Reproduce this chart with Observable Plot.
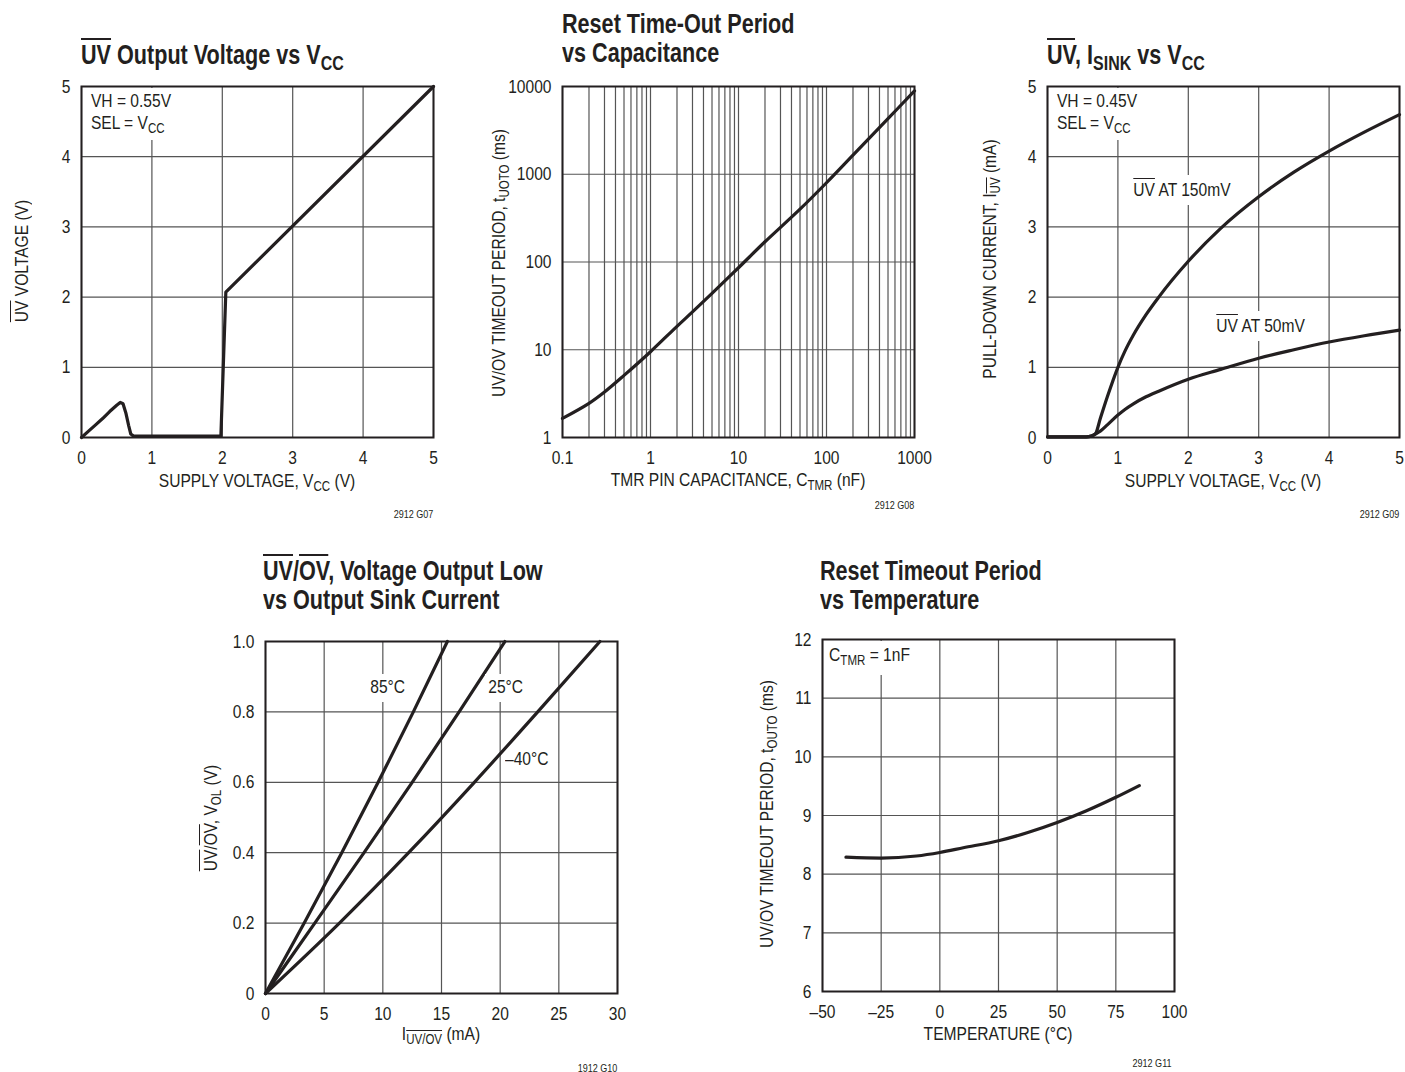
<!DOCTYPE html>
<html>
<head>
<meta charset="utf-8">
<script src="https://cdn.jsdelivr.net/npm/d3@7"></script>
<script src="https://cdn.jsdelivr.net/npm/@observablehq/plot@0.6"></script>
<style>
  html, body { margin: 0; padding: 0; background: #fff; }
  body { width: 1405px; height: 1072px; position: relative; overflow: hidden;
         font-family: "Liberation Sans", Arial, sans-serif; color: #231f20; }
  .abs { position: absolute; white-space: nowrap; }
  .sq { display: inline-block; transform: scaleX(0.82); transform-origin: left center; }
  .title { font-weight: bold; font-size: 27px; line-height: 29px; }
  .title .sq { transform: scaleX(0.8); }
  .lab { font-size: 19px; line-height: 20px; }
  .cx .sq, .rot .sq { transform-origin: center center; }
  .note { font-size: 19px; line-height: 22px; transform: scaleX(0.82); transform-origin: left top; }
  .bg { background: #fff; }
  .fn { font-size: 11px; line-height: 12px; }
  .fn .sq { transform-origin: right center; }
  .ol { text-decoration: overline; text-decoration-thickness: 1px; }
  .title .ol { text-decoration-thickness: 2px; }
  sub { font-size: 0.74em; vertical-align: -0.28em; line-height: 0; }
  .rot { transform: translate(-50%, -50%) rotate(-90deg); }
  .cx { transform: translateX(-50%); }
</style>
</head>
<body>
<script>
const FONT = '"Liberation Sans", Arial, sans-serif';
const INK = "#231f20";
const GRID = "#555";
const SQ = 0.82;

// ---------- Panel 1: UV output voltage vs VCC ----------
const p1Vcc = [0, 0.1, 0.2, 0.3, 0.4, 0.5, 0.55, 0.59, 0.63, 0.67, 0.7, 0.74, 0.8, 1.98, 2.05, 5];
const p1Vuv = [0, 0.09, 0.18, 0.27, 0.37, 0.46, 0.5, 0.48, 0.35, 0.17, 0.05, 0.02, 0.02, 0.02, 2.07, 5];
const p1Ticks = [0, 1, 2, 3, 4, 5];

// ---------- Panel 2: reset time-out period vs capacitance ----------
const p2Cap = [0.1, 0.2, 0.3, 0.5, 1, 2, 3, 5, 10, 20, 50, 100, 200, 500, 1000];
const p2Time = [1.65, 2.45, 3.3, 5.1, 9.5, 18.5, 27, 44, 86, 170, 400, 800, 1650, 4300, 8900];
const p2XTicks = [0.1, 1, 10, 100, 1000];
const p2YTicks = [1, 10, 100, 1000, 10000];
const p2XGrid = [0.1,0.2,0.3,0.4,0.5,0.6,0.7,0.8,0.9,1,2,3,4,5,6,7,8,9,10,20,30,40,50,60,70,80,90,100,200,300,400,500,600,700,800,900,1000];

// ---------- Panel 3: UV sink current vs VCC ----------
const p3Vcc = [0, 0.3, 0.55, 0.62, 0.68, 0.75, 0.85, 1.0, 1.1, 1.22, 1.4, 1.58, 2.0, 2.46, 3.0, 3.5, 4.0, 4.5, 5.0];
const p3I150 = [0.01, 0.01, 0.01, 0.02, 0.05, 0.27, 0.58, 1.0, 1.23, 1.46, 1.75, 2.0, 2.51, 2.98, 3.43, 3.78, 4.08, 4.35, 4.6];
const p3I50 = [0.01, 0.01, 0.01, 0.02, 0.05, 0.09, 0.18, 0.32, 0.4, 0.48, 0.58, 0.66, 0.83, 0.97, 1.13, 1.25, 1.36, 1.45, 1.53];
const p3Ticks = [0, 1, 2, 3, 4, 5];

// ---------- Panel 4: VOL vs sink current ----------
const p4I85 = [0, 3.3, 6.5, 9.6, 12.6, 15.5];
const p4V85 = [0, 0.2, 0.4, 0.6, 0.8, 1.0];
const p4I25 = [0, 4.2, 8.4, 12.5, 16.5, 20.4];
const p4V25 = [0, 0.2, 0.4, 0.6, 0.8, 1.0];
const p4Im40 = [0, 6.3, 12.2, 17.8, 23.2, 28.5];
const p4Vm40 = [0, 0.2, 0.4, 0.6, 0.8, 1.0];
const p4XTicks = [0, 5, 10, 15, 20, 25, 30];
const p4YTicks = [0, 0.2, 0.4, 0.6, 0.8, 1.0];

// ---------- Panel 5: reset timeout vs temperature ----------
const p5Temp = [-40, -25, -10, 0, 10, 25, 37.5, 50, 62.5, 75, 85];
const p5Tout = [8.29, 8.275, 8.31, 8.37, 8.45, 8.57, 8.71, 8.88, 9.08, 9.31, 9.51];
const p5XTicks = [-50, -25, 0, 25, 50, 75, 100];
const p5YTicks = [6, 7, 8, 9, 10, 11, 12];

const zip = (xs, ys) => xs.map((x, i) => ({x, y: ys[i]}));
const dash = d => (d < 0 ? "\u2013" + (-d) : String(d));

// condense tick labels horizontally about their anchor (texts are placed by a translate transform)
function squeezeTexts(svg) {
  svg.querySelectorAll("text").forEach(t => {
    const tr = t.getAttribute("transform") || "";
    t.setAttribute("transform", `${tr} scale(${SQ},1)`);
  });
}

function panel(o) {
  const ml = 80, mr = 40, mt = 14, mb = 40;
  const lineMarks = o.series.map(s =>
    Plot.line(s, {x: "x", y: "y", stroke: INK, strokeWidth: 3.2, curve: o.curve || "linear", strokeLinejoin: "round", strokeLinecap: "round"}));
  const svg = Plot.plot({
    width: o.w + ml + mr,
    height: o.h + mt + mb,
    marginLeft: ml, marginRight: mr, marginTop: mt, marginBottom: mb,
    style: {fontFamily: FONT, fontSize: "19px", color: INK, background: "transparent", overflow: "visible"},
    x: {type: o.xType || "linear", domain: o.xDomain},
    y: {type: o.yType || "linear", domain: o.yDomain},
    marks: [
      Plot.ruleX(o.xGrid, {stroke: GRID, strokeWidth: 1.2}),
      Plot.ruleY(o.yGrid, {stroke: GRID, strokeWidth: 1.2}),
      ...lineMarks,
      Plot.frame({stroke: INK, strokeWidth: 2}),
      Plot.axisX(o.xTicks, {label: null, tickSize: 0, tickPadding: 13, tickFormat: o.xFmt || dash}),
      Plot.axisY(o.yTicks, {label: null, tickSize: 0, tickPadding: 11, tickFormat: o.yFmt || dash})
    ]
  });
  squeezeTexts(svg);
  svg.style.position = "absolute";
  svg.style.left = (o.left - ml) + "px";
  svg.style.top = (o.top - mt) + "px";
  document.body.appendChild(svg);
}

panel({left: 81, top: 86, w: 352, h: 351, xDomain: [0, 5], yDomain: [0, 5],
  xGrid: p1Ticks, yGrid: p1Ticks, xTicks: p1Ticks, yTicks: p1Ticks,
  series: [zip(p1Vcc, p1Vuv)]});

panel({left: 562, top: 86, w: 352, h: 351, xType: "log", yType: "log",
  xDomain: [0.1, 1000], yDomain: [1, 10000],
  xGrid: p2XGrid, yGrid: p2YTicks, xTicks: p2XTicks, yTicks: p2YTicks,
  xFmt: d => String(d), yFmt: d => String(d), curve: "catmull-rom",
  series: [zip(p2Cap, p2Time)]});

panel({left: 1047, top: 86, w: 352, h: 351, xDomain: [0, 5], yDomain: [0, 5],
  xGrid: p3Ticks, yGrid: p3Ticks, xTicks: p3Ticks, yTicks: p3Ticks, curve: "monotone-x",
  series: [zip(p3Vcc, p3I150), zip(p3Vcc, p3I50)]});

panel({left: 265, top: 641, w: 352, h: 352, xDomain: [0, 30], yDomain: [0, 1],
  xGrid: p4XTicks, yGrid: p4YTicks, xTicks: p4XTicks, yTicks: p4YTicks, curve: "monotone-x",
  yFmt: d => (d === 0 ? "0" : d.toFixed(1)),
  series: [zip(p4I85, p4V85), zip(p4I25, p4V25), zip(p4Im40, p4Vm40)]});

panel({left: 822, top: 639, w: 352, h: 352, xDomain: [-50, 100], yDomain: [6, 12],
  xGrid: p5XTicks, yGrid: p5YTicks, xTicks: p5XTicks, yTicks: p5YTicks, curve: "monotone-x",
  series: [zip(p5Temp, p5Tout)]});

function add(cls, html, css) {
  const d = document.createElement("div");
  d.className = "abs " + cls;
  Object.assign(d.style, css);
  d.innerHTML = html;
  document.body.appendChild(d);
  return d;
}

// ---------- titles ----------
const titles = [
  [81, 41, '<span class="ol">UV</span> Output Voltage vs V<sub>CC</sub>'],
  [562, 10, 'Reset Time-Out Period<br>vs Capacitance'],
  [1047, 41, '<span class="ol">UV</span>, I<sub>SINK</sub> vs V<sub>CC</sub>'],
  [263, 557, '<span class="ol">UV</span>/<span class="ol">OV</span>, Voltage Output Low<br>vs Output Sink Current'],
  [820, 557, 'Reset Timeout Period<br>vs Temperature'],
];
for (const [x, y, html] of titles) add("title", `<span class="sq">${html}</span>`, {left: x + "px", top: y + "px"});

// ---------- axis labels ----------
const xLabels = [
  [257, 471, 'SUPPLY VOLTAGE, V<sub>CC</sub> (V)'],
  [738, 470, 'TMR PIN CAPACITANCE, C<sub>TMR</sub> (nF)'],
  [1223, 471, 'SUPPLY VOLTAGE, V<sub>CC</sub> (V)'],
  [441, 1024, 'I<sub><span class="ol">UV/OV</span></sub> (mA)'],
  [998, 1024, 'TEMPERATURE (°C)'],
];
for (const [x, y, html] of xLabels) add("lab cx", `<span class="sq">${html}</span>`, {left: x + "px", top: y + "px"});

const yLabels = [
  [22, 261, '<span class="ol">UV</span> VOLTAGE (V)'],
  [499, 263, 'UV/OV TIMEOUT PERIOD, t<sub>UOTO</sub> (ms)'],
  [990, 259, 'PULL-DOWN CURRENT, I<sub><span class="ol">UV</span></sub> (mA)'],
  [211, 818, '<span class="ol">UV</span>/<span class="ol">OV</span>, V<sub>OL</sub> (V)'],
  [767, 814, 'UV/OV TIMEOUT PERIOD, t<sub>OUTO</sub> (ms)'],
];
for (const [x, y, html] of yLabels) add("lab rot", `<span class="sq">${html}</span>`, {left: x + "px", top: y + "px"});

// ---------- in-plot notes: [left, top, padding, white box?, html] ----------
const notes = [
  [86, 88, "2px 8px 6px 6px", true, 'VH = 0.55V<br>SEL = V<sub>CC</sub>'],
  [1052, 88, "2px 8px 6px 6px", true, 'VH = 0.45V<br>SEL = V<sub>CC</sub>'],
  [1130, 175, "4px 4px 4px 4px", true, '<span class="ol">UV</span> AT 150mV'],
  [1213, 311, "4px 4px 4px 4px", true, '<span class="ol">UV</span> AT 50mV'],
  [367, 674, "2px 4px 4px 4px", true, '85°C'],
  [485, 674, "2px 4px 4px 4px", true, '25°C'],
  [505, 748, "0px", false, '\u201340°C'],
  [825, 641, "3px 6px 9px 5px", true, 'C<sub>TMR</sub> = 1nF'],
];
for (const [x, y, pad, bg, html] of notes) add("note" + (bg ? " bg" : ""), html, {left: x + "px", top: y + "px", padding: pad});

// ---------- figure codes: [right edge, top, text] ----------
const codes = [[433, 508, "2912 G07"], [914, 499, "2912 G08"], [1399, 508, "2912 G09"], [617, 1062, "1912 G10"], [1172, 1057, "2912 G11"]];
for (const [r, y, t] of codes) add("fn", `<span class="sq">${t}</span>`, {right: (1405 - r) + "px", top: y + "px"});
</script>
</body>
</html>
